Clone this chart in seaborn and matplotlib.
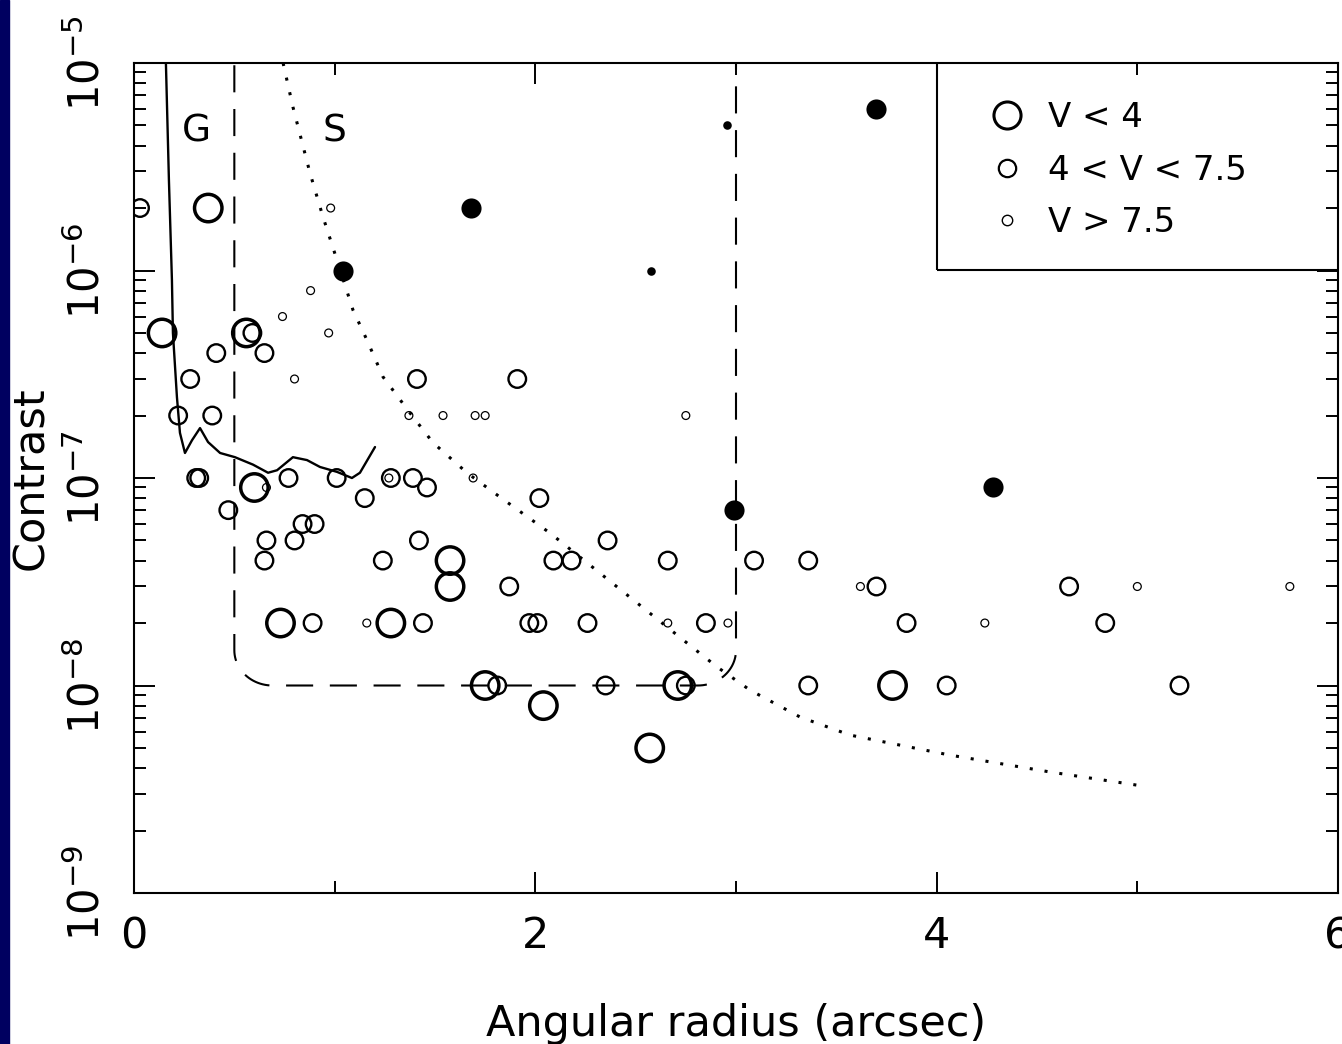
import numpy as np
import matplotlib
matplotlib.use("Agg")
import matplotlib.pyplot as plt
from matplotlib.lines import Line2D
from matplotlib.patches import Rectangle
import seaborn as sns

# ---- stars: angular separation (arcsec) and contrast, by V magnitude ----
bright_sep = [0.37, 0.14, 0.56, 0.60, 1.575, 1.575, 0.73, 1.28, 1.75, 2.71, 3.78, 2.04, 2.57]
bright_con = [2e-6, 5e-7, 5e-7, 9e-8, 4e-8, 3e-8, 2e-8, 2e-8, 1e-8, 1e-8, 1e-8, 8e-9, 5e-9]

mid_sep = [0.03, 0.59, 0.41, 0.65, 0.28, 1.41, 1.91, 0.22, 0.39, 0.31, 0.325,
           0.77, 1.01, 1.28, 1.39, 1.46, 1.15, 2.02, 0.47, 0.84, 0.90, 0.66,
           0.80, 1.42, 2.36, 0.65, 1.24, 2.09, 2.18, 2.66, 3.09, 3.36, 1.87,
           3.70, 4.66, 0.89, 1.44, 1.97, 2.01, 2.26, 2.85, 3.85, 4.84, 1.81,
           2.35, 2.75, 3.36, 4.05, 5.21]
mid_con = [2e-6, 5e-7, 4e-7, 4e-7, 3e-7, 3e-7, 3e-7, 2e-7, 2e-7, 1e-7, 1e-7,
           1e-7, 1e-7, 1e-7, 1e-7, 9e-8, 8e-8, 8e-8, 7e-8, 6e-8, 6e-8, 5e-8,
           5e-8, 5e-8, 5e-8, 4e-8, 4e-8, 4e-8, 4e-8, 4e-8, 4e-8, 4e-8, 3e-8,
           3e-8, 3e-8, 2e-8, 2e-8, 2e-8, 2e-8, 2e-8, 2e-8, 2e-8, 2e-8, 1e-8,
           1e-8, 1e-8, 1e-8, 1e-8, 1e-8]

faint_sep = [0.98, 0.88, 0.74, 0.97, 0.80, 1.37, 1.54, 1.70, 1.75, 2.75,
             0.66, 1.27, 1.69, 3.62, 5.00, 5.76, 1.16, 2.66, 2.96, 4.24]
faint_con = [2e-6, 8e-7, 6e-7, 5e-7, 3e-7, 2e-7, 2e-7, 2e-7, 2e-7, 2e-7,
             9e-8, 1e-7, 1e-7, 3e-8, 3e-8, 3e-8, 2e-8, 2e-8, 2e-8, 2e-8]

# filled symbols
known_sep = [1.68, 1.04, 3.70, 2.99, 4.28]
known_con = [2e-6, 1e-6, 6e-6, 7e-8, 9e-8]
known_small_sep = [2.955, 2.576]
known_small_con = [5e-6, 1e-6]

# ---- limiting contrast curves ----
g_sep = [0.159, 0.174, 0.189, 0.194, 0.214, 0.229, 0.254, 0.289, 0.329, 0.369, 0.429,
         0.503, 0.593, 0.668, 0.713, 0.792, 0.862, 0.927, 1.012, 1.086, 1.126, 1.201]
g_con = [1.0e-5, 2.73e-6, 9.0e-7, 5.0e-7, 2.45e-7, 1.65e-7, 1.32e-7, 1.52e-7, 1.74e-7,
         1.49e-7, 1.32e-7, 1.26e-7, 1.16e-7, 1.06e-7, 1.09e-7, 1.26e-7, 1.22e-7,
         1.13e-7, 1.07e-7, 1.00e-7, 1.06e-7, 1.41e-7]

s_sep = [0.743, 0.792, 0.877, 0.942, 1.012, 1.091, 1.161, 1.241, 1.375, 1.490, 1.659,
         1.824, 2.073, 2.322, 2.571, 2.736, 2.905, 3.070, 3.319, 3.568, 3.817, 4.066,
         4.565, 4.998]
s_con = [1.0e-5, 6.14e-6, 2.95e-6, 1.81e-6, 1.12e-6, 6.46e-7, 4.62e-7, 3.07e-7,
         2.06e-7, 1.48e-7, 1.06e-7, 8.09e-8, 5.43e-8, 3.48e-8, 2.23e-8, 1.66e-8,
         1.23e-8, 9.5e-9, 7.05e-9, 5.77e-9, 5.16e-9, 4.62e-9, 3.83e-9, 3.31e-9]

# search region: inner/outer working angle and contrast floor
box_inner, box_outer, box_floor = 0.5, 3.0, 1e-8

legend_labels = ["V < 4", "4 < V < 7.5", "V > 7.5"]
x_ticks = [0, 2, 4, 6]
y_ticks = [1e-9, 1e-8, 1e-7, 1e-6, 1e-5]
y_tick_labels = [r"$10^{-9}$", r"$10^{-8}$", r"$10^{-7}$", r"$10^{-6}$", r"$10^{-5}$"]

sns.set_theme(style="ticks")
plt.rcParams["font.family"] = ["DejaVu Sans"]
plt.rcParams["mathtext.fontset"] = "dejavusans"
for key in ["text.color", "axes.labelcolor", "xtick.color", "ytick.color",
            "axes.edgecolor"]:
    plt.rcParams[key] = "black"

W, H = 1342, 1044
fig = plt.figure(figsize=(W / 100, H / 100), dpi=100, facecolor="white")
fig.patches.append(Rectangle((0, 0), 9 / W, 1, transform=fig.transFigure,
                             color="#000060", zorder=10))
ax = fig.add_axes([134 / W, 1 - 893 / H, (1338 - 134) / W, (893 - 63) / H])
ax.set_facecolor("white")

# rounded outline of the search region (built in log-contrast space)
dx, dlog = 0.19, 0.17
t = np.linspace(0, np.pi / 2, 25)
fl = np.log10(box_floor)
path_x = np.concatenate([[box_inner], box_inner + dx - dx * np.cos(t),
                         box_outer - dx + dx * np.sin(t), [box_outer]])
path_logy = np.concatenate([[-4.8], fl + dlog - dlog * np.sin(t),
                            fl + dlog - dlog * np.cos(t), [-4.8]])
ax.plot(path_x, 10 ** path_logy, color="black", lw=1.5,
        linestyle=(0, (13, 8)), zorder=2)

sns.lineplot(x=g_sep, y=g_con, sort=False, estimator=None, color="black",
             lw=1.7, ax=ax, zorder=2)
sns.lineplot(x=s_sep, y=s_con, sort=False, estimator=None, color="black",
             lw=2.2, linestyle=(0, (1, 3.9)), ax=ax, zorder=2)

open_kw = dict(facecolors="none", edgecolor="black", legend=False, ax=ax, zorder=3)
sns.scatterplot(x=bright_sep, y=bright_con, s=390, linewidth=2.5, **open_kw)
sns.scatterplot(x=mid_sep, y=mid_con, s=160, linewidth=1.7, **open_kw)
sns.scatterplot(x=faint_sep, y=faint_con, s=32, linewidth=0.9, **open_kw)
sns.scatterplot(x=known_sep, y=known_con, s=210, color="black", linewidth=0,
                legend=False, ax=ax, zorder=3)
sns.scatterplot(x=known_small_sep, y=known_small_con, s=38, color="black",
                linewidth=0, legend=False, ax=ax, zorder=3)

ax.text(0.31, 4.7e-6, "G", fontsize=27, ha="center", va="center", color="black")
ax.text(1.0, 4.7e-6, "S", fontsize=27, ha="center", va="center", color="black")

ax.set_xlim(0, 6)
ax.set_yscale("log")
ax.set_ylim(1e-9, 1e-5)
ax.set_xticks(x_ticks)
ax.set_xticks([1, 3, 5], minor=True)
ax.set_xticklabels([str(v) for v in x_ticks], fontsize=31)
ax.set_yticks(y_ticks)
ax.set_yticklabels(y_tick_labels, fontsize=30, rotation=90, va="center")
ax.yaxis.set_minor_locator(matplotlib.ticker.LogLocator(base=10, subs=np.arange(2, 10)))
ax.yaxis.set_minor_formatter(matplotlib.ticker.NullFormatter())
ax.tick_params(which="both", direction="in", top=True, right=True,
               width=1.4, color="black", labelcolor="black")
ax.tick_params(which="major", length=15)
ax.tick_params(which="minor", length=8.5)
ax.tick_params(axis="x", which="major", pad=16)
ax.tick_params(axis="y", which="major", pad=18)
for sp in ax.spines.values():
    sp.set_visible(True)
    sp.set_linewidth(1.5)
    sp.set_color("black")

ax.set_xlabel("Angular radius (arcsec)", fontsize=31, color="black")
ax.xaxis.set_label_coords(0.5, -0.1325)
ax.set_ylabel("Contrast", fontsize=31, color="black")
ax.yaxis.set_label_coords(-0.068, 0.5)

# legend box in the upper-right corner
ax.add_patch(Rectangle((0.667, 0.7506), 0.35, 0.3, transform=ax.transAxes,
                       fill=False, lw=1.5, edgecolor="black", zorder=4))
handles = [
    Line2D([], [], marker="o", ls="none", mfc="none", mec="black", ms=19.5, mew=2.2),
    Line2D([], [], marker="o", ls="none", mfc="none", mec="black", ms=12.5, mew=1.6),
    Line2D([], [], marker="o", ls="none", mfc="none", mec="black", ms=7.5, mew=1.0),
]
leg = ax.legend(handles, legend_labels, loc="center left", bbox_to_anchor=(0.6927, 0.871),
                frameon=False, fontsize=24.5, handlelength=1.5, handletextpad=0.45,
                labelspacing=0.57, borderaxespad=0)
for txt in leg.get_texts():
    txt.set_color("black")

fig.savefig("out.png", dpi=100, facecolor="white")
